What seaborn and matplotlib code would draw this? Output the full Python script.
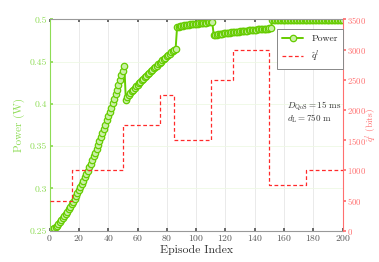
import numpy as np
import pandas as pd
import matplotlib
matplotlib.use("Agg")
import matplotlib.pyplot as plt
import seaborn as sns

# ---- data ----
# power per episode (W), split by the jumps
power_seg1 = [0.2500, 0.2505, 0.2515, 0.2528, 0.2543, 0.2560, 0.2579, 0.2599, 0.2621, 0.2645,
              0.2669, 0.2695, 0.2723, 0.2751, 0.2780, 0.2811, 0.2843, 0.2875, 0.2909, 0.2943,
              0.2979, 0.3015, 0.3052, 0.3091, 0.3130, 0.3169, 0.3210, 0.3251, 0.3293, 0.3336,
              0.3380, 0.3424, 0.3469, 0.3515, 0.3561, 0.3609, 0.3657, 0.3705, 0.3754, 0.3804,
              0.3854, 0.3906, 0.3957, 0.4010, 0.4063, 0.4116, 0.4170, 0.4225, 0.4281, 0.4337,
              0.4393, 0.4450]
power_seg2 = [0.4050, 0.4080, 0.4104, 0.4127, 0.4148, 0.4169, 0.4188, 0.4208, 0.4227, 0.4245,
              0.4264, 0.4282, 0.4300, 0.4317, 0.4335, 0.4352, 0.4369, 0.4386, 0.4402, 0.4419,
              0.4435, 0.4452, 0.4468, 0.4484, 0.4500, 0.4516, 0.4532, 0.4547, 0.4563, 0.4578,
              0.4594, 0.4609, 0.4625, 0.4640, 0.4655]
power_seg3 = [0.4910, 0.4915, 0.4919, 0.4923, 0.4926, 0.4929, 0.4932, 0.4935, 0.4938, 0.4940,
              0.4943, 0.4945, 0.4947, 0.4949, 0.4951, 0.4953, 0.4955, 0.4957, 0.4959, 0.4961,
              0.4962, 0.4964, 0.4965, 0.4967, 0.4968]
power_seg4 = [0.4814, 0.4817, 0.4820, 0.4823, 0.4826, 0.4829, 0.4831, 0.4834, 0.4836, 0.4839,
              0.4841, 0.4843, 0.4846, 0.4848, 0.4850, 0.4852, 0.4854, 0.4856, 0.4858, 0.4860,
              0.4862, 0.4864, 0.4866, 0.4868, 0.4870, 0.4872, 0.4874, 0.4875, 0.4877, 0.4879,
              0.4881, 0.4882, 0.4884, 0.4886, 0.4887, 0.4889, 0.4890, 0.4892, 0.4893, 0.4895]
power_seg5 = [0.4992, 0.4993, 0.4993, 0.4994, 0.4994, 0.4994, 0.4995, 0.4995, 0.4995, 0.4995,
              0.4996, 0.4996, 0.4996, 0.4996, 0.4996, 0.4996, 0.4996, 0.4996, 0.4996, 0.4996,
              0.4996, 0.4996, 0.4996, 0.4996, 0.4997, 0.4997, 0.4997, 0.4997, 0.4997, 0.4997,
              0.4997, 0.4997, 0.4997, 0.4997, 0.4997, 0.4997, 0.4997, 0.4997, 0.4998, 0.4998,
              0.4998, 0.4998, 0.4998, 0.4998, 0.4998, 0.4998, 0.4998, 0.4998, 0.4998]

# q^l step schedule (bits)
q_edges = [0, 15, 50, 75, 85, 110, 125, 150, 175, 200]
q_bits = [500, 1000, 1750, 2250, 1500, 2500, 3000, 750, 1000]

x_ticks = [0, 20, 40, 60, 80, 100, 120, 140, 160, 180, 200]
left_ticks = [0.25, 0.3, 0.35, 0.4, 0.45, 0.5]
left_labels = ["0.25", "0.3", "0.35", "0.4", "0.45", "0.5"]
right_ticks = [0, 500, 1000, 1500, 2000, 2500, 3000, 3500]

power = power_seg1 + power_seg2 + power_seg3 + power_seg4 + power_seg5
power_df = pd.DataFrame({"episode": np.arange(len(power)), "power": power})
q_df = pd.DataFrame({"episode": q_edges, "bits": q_bits + [q_bits[-1]]})

# ---- style ----
sns.set_theme(style="white")
plt.rcParams["font.family"] = ["cmr10", "DejaVu Serif"]
plt.rcParams["mathtext.fontset"] = "cm"
plt.rcParams["axes.formatter.use_mathtext"] = True
plt.rcParams["axes.unicode_minus"] = False

green = "#66CC00"
green_light = "#8EDC55"
red = "#FF2A2A"
red_light = "#FF6F6F"

fig = plt.figure(figsize=(3.79, 2.62), dpi=100)
ax = fig.add_axes([0.131, 0.1195, 0.773, 0.8065])
ax2 = ax.twinx()

sns.lineplot(data=power_df, x="episode", y="power", ax=ax, color=green, lw=1.4,
             marker="o", markersize=4.6, markerfacecolor="#C9F0A6",
             markeredgecolor=green, markeredgewidth=0.9, label="Power", legend=False)
sns.lineplot(data=q_df, x="episode", y="bits", ax=ax2, color=red, lw=0.9,
             drawstyle="steps-post", dashes=False, linestyle=(0, (3, 2)),
             label=r"$\hat{q}^l$", legend=False)

ax.set_xlim(0, 200)
ax.set_ylim(0.25, 0.5)
ax2.set_ylim(0, 3500)
ax.set_xticks(x_ticks)
ax.set_yticks(left_ticks)
ax.set_yticklabels(left_labels)
ax2.set_yticks(right_ticks)

ax.grid(True, axis="x", color="#e6e6e6", lw=0.6)
ax.grid(True, axis="y", color="#eef8e4", lw=0.6)
ax.set_axisbelow(True)

ax.tick_params(axis="x", direction="in", length=2.5, labelsize=7, colors="#555555",
               top=True, bottom=True, pad=2)
ax.tick_params(axis="y", direction="in", length=2.5, labelsize=7, colors=green_light,
               labelcolor=green_light, pad=2)
ax2.tick_params(axis="y", direction="out", length=2.0, labelsize=6.3, colors=red_light,
                labelcolor=red_light, pad=0.8)

for side in ["top", "bottom"]:
    ax.spines[side].set_color("#999999")
    ax2.spines[side].set_visible(False)
ax.spines["left"].set_color(green_light)
ax.spines["right"].set_visible(False)
ax2.spines["left"].set_visible(False)
ax2.spines["right"].set_color(red_light)
for s in ax.spines.values():
    s.set_linewidth(0.8)
ax2.spines["right"].set_linewidth(0.8)

ax.set_xlabel("Episode Index", fontsize=8.5, color="#333333", labelpad=1)
ax.set_ylabel("Power (W)", fontsize=8, color=green_light, labelpad=3)
ax2.set_ylabel(r"$\hat{q}^l$ (bits)", fontsize=6.8, color=red_light,
               rotation=90, ha="center", va="center")
ax2.yaxis.set_label_coords(1.098, 0.5)

ax2.text(162, 2060, r"$D_{\rm QoS}=15$ ms", fontsize=6.5, color="#333333", va="center")
ax2.text(162, 1860, r"$d_{\rm L}=750$ m", fontsize=6.5, color="#333333", va="center")

h1, l1 = ax.get_legend_handles_labels()
h2, l2 = ax2.get_legend_handles_labels()
leg = ax2.legend(h1 + h2, l1 + l2, loc="upper right", bbox_to_anchor=(1.0, 0.953),
                 borderaxespad=0, fontsize=7, frameon=True, fancybox=False,
                 edgecolor="#888888", framealpha=1, handlelength=2.2, borderpad=0.5,
                 labelspacing=0.6)
leg.get_frame().set_linewidth(0.7)

fig.savefig("out.png", dpi=100)
